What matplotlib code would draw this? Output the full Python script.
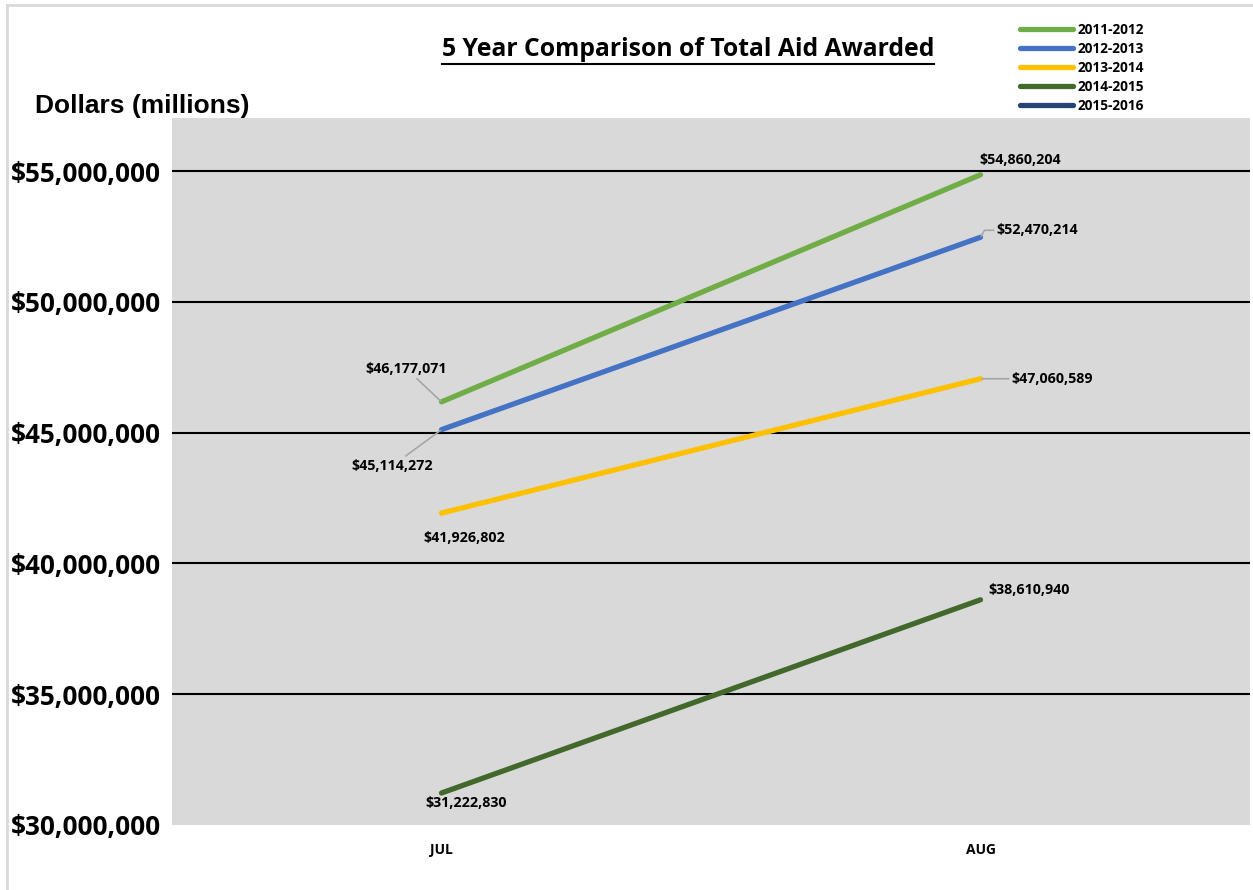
import matplotlib.pyplot as plt
from matplotlib.lines import Line2D
from matplotlib.ticker import FuncFormatter

months = ["JUL", "AUG"]
years = ["2011-2012", "2012-2013", "2013-2014", "2014-2015", "2015-2016"]
aid_2011 = [46177071, 54860204]
aid_2012 = [45114272, 52470214]
aid_2013 = [41926802, 47060589]
aid_2014 = [31222830, 38610940]
aid_2015 = []  # no data yet, legend only
colors = ["#70AD47", "#4472C4", "#FFC000", "#43682B", "#264478"]

font = ["Open Sans", "DejaVu Sans"]
plt.rcParams['font.family'] = font

fig = plt.figure(figsize=(12.53, 8.90), dpi=100)
ax = fig.add_axes([172 / 1253, 1 - 825 / 890, 1078 / 1253, 707 / 890])
ax.set_facecolor("#D9D9D9")

series = [aid_2011, aid_2012, aid_2013, aid_2014, aid_2015]
x = list(range(len(months)))
for vals, c, lab in zip(series, colors, years):
    ax.plot(x[:len(vals)], vals, color=c, lw=3.8, solid_capstyle="round", label=lab)

# data labels: (offset in pixels, alignment, leader line)
lead = dict(arrowstyle="-", color="#A6A6A6", lw=1.2, shrinkA=0, shrinkB=1)
labels = [
    (aid_2011, 0, (-35, 33), "center", lead),
    (aid_2011, 1, (40, 15), "center", None),
    (aid_2012, 0, (-49, -36), "center", lead),
    (aid_2012, 1, (16, 7), "left", dict(arrowstyle="-", color="#A6A6A6", lw=1.2,
                                          shrinkA=0, shrinkB=1, connectionstyle="angle,angleA=0,angleB=60,rad=0")),
    (aid_2013, 0, (23, -25), "center", None),
    (aid_2013, 1, (31, 0), "left", lead),
    (aid_2014, 0, (25, -10), "center", None),
    (aid_2014, 1, (49, 10), "center", None),
]
for vals, i, off, ha, ap in labels:
    ax.annotate(f"${vals[i]:,.0f}", (x[i], vals[i]), xytext=off, textcoords="offset pixels",
                ha=ha, va="center", fontsize=10.3, fontweight="bold", arrowprops=ap)

ax.set_xlim(-0.5, 1.5)
ax.set_ylim(30e6, 57.03e6)
ax.set_xticks(x)
ax.set_xticklabels(months, fontsize=10, fontweight="bold")
ax.set_yticks(range(30000000, 55000001, 5000000))
ax.yaxis.set_major_formatter(FuncFormatter(lambda v, p: f"${v:,.0f}"))
for t in ax.get_yticklabels():
    t.set_fontsize(18.8)
    t.set_fontweight("bold")
ax.tick_params(axis="both", length=0)
ax.tick_params(axis="y", pad=8)
ax.tick_params(axis="x", pad=13)
ax.yaxis.grid(True, color="black", lw=1.5)
ax.get_ygridlines()[0].set_visible(False)
ax.set_axisbelow(True)
for s in ax.spines.values():
    s.set_visible(False)

fig.text(35 / 1253, 1 - 106 / 890, "Dollars (millions)", fontsize=19, fontweight="bold",
         family="Liberation Sans", va="center")

title = fig.text(688 / 1253, 1 - 49 / 890, "5 Year Comparison of Total Aid Awarded",
                 fontsize=17.8, fontweight="bold", ha="center", va="center")
fig.canvas.draw()
bb = title.get_window_extent().transformed(fig.transFigure.inverted())
fig.add_artist(Line2D([bb.x0, bb.x1], [1 - 64 / 890] * 2, color="black", lw=1.5,
                      transform=fig.transFigure))

fig.legend(loc="upper left", bbox_to_anchor=(1008 / 1253, 1 - 11 / 890), frameon=False,
           prop=dict(size=9.8, weight="bold"), handlelength=3.9, labelspacing=0.36,
           handletextpad=0.3)

# chart frame
fig.add_artist(Line2D([7 / 1253, 7 / 1253], [0, 1 - 5 / 890], color="#D9D9D9", lw=2,
                      transform=fig.transFigure))
fig.add_artist(Line2D([7 / 1253, 1], [1 - 5 / 890] * 2, color="#D9D9D9", lw=2,
                      transform=fig.transFigure))

fig.savefig("out.png", dpi=100)
